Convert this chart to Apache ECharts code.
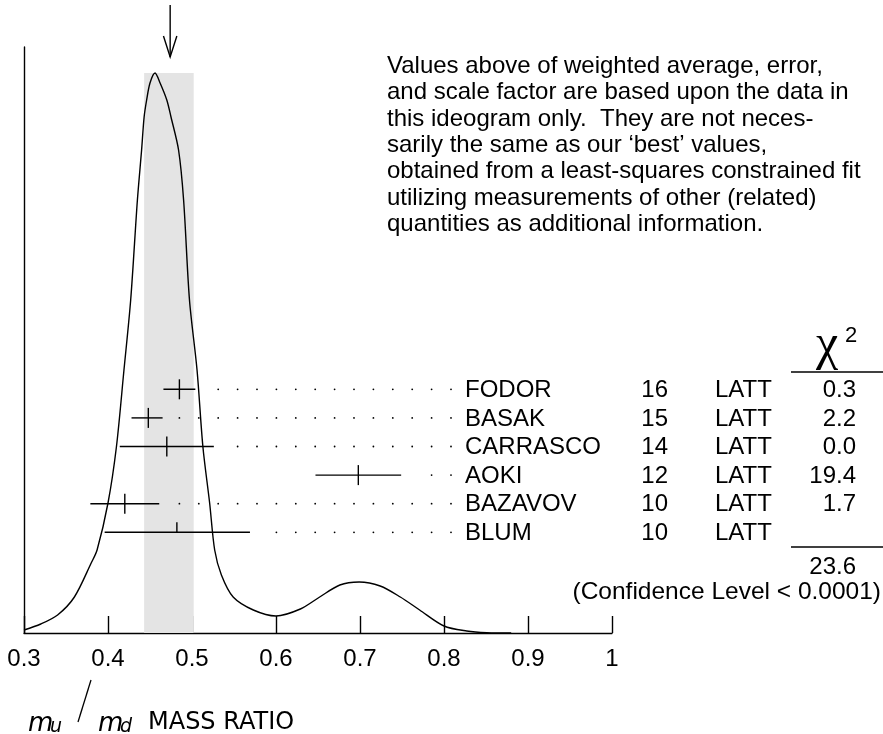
<!DOCTYPE html>
<html>
<head>
<meta charset="utf-8">
<script src="https://cdn.jsdelivr.net/npm/echarts/dist/echarts.min.js"></script>
<style>
  html, body { margin: 0; background: #fff; }
  #chart { width: 883px; height: 734px; }
</style>
</head>
<body>
<div id="chart"></div>
<script>
// ideogram curve (x = mu/md, y = height, arbitrary units)
const curveX = [0.300, 0.320, 0.340, 0.360, 0.380, 0.387, 0.400, 0.410, 0.419, 0.427, 0.435, 0.440, 0.443, 0.446, 0.450, 0.456,
  0.462, 0.470, 0.475, 0.484, 0.490, 0.497, 0.506, 0.513, 0.521, 0.527, 0.535, 0.549, 0.573, 0.600, 0.629, 0.652,
  0.676, 0.699, 0.724, 0.748, 0.771, 0.800, 0.827, 0.851, 0.880]
const curveY = [3, 9, 18, 36, 70, 83, 130, 186, 263, 333, 433, 483, 516, 533, 550, 560,
  550, 533, 516, 483, 433, 333, 263, 186, 130, 83, 58, 36, 23, 17, 24, 36,
  48, 51, 47, 36, 23, 7, 2, 0.3, 0]

// measurements
const names = ['FODOR', 'BASAK', 'CARRASCO', 'AOKI', 'BAZAVOV', 'BLUM']
const years = ['16', '15', '14', '12', '10', '10']
const techs = ['LATT', 'LATT', 'LATT', 'LATT', 'LATT', 'LATT']
const values = [0.485, 0.448, 0.470, 0.698, 0.420, 0.482]
const errLo = [0.019, 0.020, 0.056, 0.051, 0.041, 0.086]
const errHi = [0.019, 0.017, 0.056, 0.051, 0.041, 0.087]
const fullTick = [true, true, true, true, true, false]
const chi2 = ['0.3', '2.2', '0.0', '19.4', '1.7', '']
const chi2Total = '23.6'
const confLevel = '(Confidence Level < 0.0001)'

// weighted average and its error band
const avg = 0.474
const bandLo = 0.443
const bandHi = 0.502

const xMin = 0.3
const xMax = 1
const xStep = 0.1

const note = [
  'Values above of weighted average, error,',
  'and scale factor are based upon the data in',
  'this ideogram only.  They are not neces-',
  'sarily the same as our \u2018best\u2019 values,',
  'obtained from a least-squares constrained fit',
  'utilizing measurements of other (related)',
  'quantities as additional information.'
]

const FONT = 'Liberation Sans, Arial, sans-serif'
const yTop = 586           // y axis units == pixels of plot height
const rowFirst = 243.7     // height of the first row above the axis
const rowStep = 28.6

const chartDom = document.getElementById('chart')
const myChart = echarts.init(chartDom)

const renderRow = (params, api) => {
  const i = api.value(0)
  const y = api.coord([xMin, rowFirst - i * rowStep])[1]
  const c = api.coord([values[i], 0])[0]
  const lo = api.coord([values[i] - errLo[i], 0])[0]
  const hi = api.coord([values[i] + errHi[i], 0])[0]
  const ink = { stroke: '#000', lineWidth: 1.4 }
  const kids = [
    { type: 'line', shape: { x1: lo, y1: y, x2: hi, y2: y }, style: ink },
    { type: 'line', shape: { x1: c, y1: y - 10, x2: c, y2: fullTick[i] ? y + 10 : y }, style: ink }
  ]
  // dotted leader to the name
  for (let x = 451; x > hi + 14; x -= 19.4) {
    kids.push({ type: 'circle', shape: { cx: x, cy: y, r: 0.9 }, style: { fill: '#000' } })
  }
  const txt = (s, x, align) => ({
    type: 'text', x: x, y: y + 1,
    style: { text: s, fill: '#000', font: '24px ' + FONT, align: align, verticalAlign: 'middle' }
  })
  kids.push(txt(names[i], 465, 'left'))
  kids.push(txt(years[i], 668, 'right'))
  kids.push(txt(techs[i], 715, 'left'))
  kids.push(txt(chi2[i], 856, 'right'))
  return { type: 'group', children: kids }
}

const renderArrow = (params, api) => {
  const x = api.coord([api.value(0), 0])[0]
  const ink = { stroke: '#000', lineWidth: 1.4, fill: null }
  return {
    type: 'group',
    children: [
      { type: 'line', shape: { x1: x, y1: 5, x2: x, y2: 57 }, style: ink },
      { type: 'polyline', shape: { points: [[x - 6.7, 36], [x, 57], [x + 6.7, 36]] }, style: ink }
    ]
  }
}

let option = {
  animation: false,
  backgroundColor: '#fff',
  grid: { left: 24, right: 271, top: 47, bottom: 101 },
  xAxis: {
    type: 'value',
    min: xMin,
    max: xMax,
    interval: xStep,
    axisLine: { lineStyle: { color: '#000', width: 1.4 } },
    axisTick: { inside: true, length: 17, lineStyle: { color: '#000', width: 1.4 } },
    axisLabel: {
      color: '#000', fontSize: 24, fontFamily: FONT, margin: 14,
      showMinLabel: true, showMaxLabel: true,
      formatter: v => String(Math.round(v * 10) / 10)
    },
    splitLine: { show: false }
  },
  yAxis: {
    type: 'value',
    min: 0,
    max: yTop,
    axisLine: { show: true, lineStyle: { color: '#000', width: 1.4 } },
    axisTick: { show: false },
    axisLabel: { show: false },
    splitLine: { show: false }
  },
  series: [
    {
      type: 'line',
      data: curveX.map((x, i) => [x, curveY[i]]),
      showSymbol: false,
      smooth: 0.3,
      lineStyle: { color: '#000', width: 1.4 },
      z: 3,
      markArea: {
        silent: true,
        itemStyle: { color: '#e4e4e4' },
        data: [[{ xAxis: bandLo, yAxis: 0 }, { xAxis: bandHi, yAxis: Math.max(...curveY) }]]
      }
    },
    {
      type: 'custom',
      clip: false,
      z: 4,
      data: names.map((n, i) => [i]),
      renderItem: renderRow
    },
    {
      type: 'custom',
      clip: false,
      z: 4,
      data: [[avg]],
      renderItem: renderArrow
    }
  ],
  graphic: [
    {
      type: 'text', x: 387, y: 53,
      style: { text: note.join('\n'), fill: '#000', font: '24px ' + FONT, lineHeight: 26.4 }
    },
    { type: 'text', x: 827, y: 346, style: { text: '\u03c7', fill: '#000', font: '50px Liberation Serif', align: 'center', verticalAlign: 'middle' } },
    { type: 'text', x: 845, y: 336, style: { text: '2', fill: '#000', font: '22px ' + FONT, align: 'left', verticalAlign: 'middle' } },
    { type: 'line', shape: { x1: 791, y1: 372, x2: 883, y2: 372 }, style: { stroke: '#000', lineWidth: 1.4 } },
    { type: 'line', shape: { x1: 791, y1: 547, x2: 883, y2: 547 }, style: { stroke: '#000', lineWidth: 1.4 } },
    { type: 'text', x: 856, y: 567, style: { text: chi2Total, fill: '#000', font: '24px ' + FONT, align: 'right', verticalAlign: 'middle' } },
    { type: 'text', x: 881, y: 592, style: { text: confLevel, fill: '#000', font: '24.5px ' + FONT, align: 'right', verticalAlign: 'middle' } },
    // axis title: m_u / m_d MASS RATIO
    { type: 'text', x: 28, y: 711, style: { text: 'm', fill: '#000', font: 'italic 26px DejaVu Sans', verticalAlign: 'alphabetic' } },
    { type: 'text', x: 50, y: 718, style: { text: 'u', fill: '#000', font: 'italic 19px DejaVu Sans', verticalAlign: 'alphabetic' } },
    { type: 'line', shape: { x1: 91, y1: 680, x2: 78, y2: 722 }, style: { stroke: '#000', lineWidth: 1.3 } },
    { type: 'text', x: 98, y: 711, style: { text: 'm', fill: '#000', font: 'italic 26px DejaVu Sans', verticalAlign: 'alphabetic' } },
    { type: 'text', x: 120, y: 718, style: { text: 'd', fill: '#000', font: 'italic 19px DejaVu Sans', verticalAlign: 'alphabetic' } },
    { type: 'text', x: 148, y: 711, style: { text: 'MASS RATIO', fill: '#000', font: '24px DejaVu Sans', verticalAlign: 'alphabetic' } }
  ]
}

option && myChart.setOption(option)
</script>
</body>
</html>
